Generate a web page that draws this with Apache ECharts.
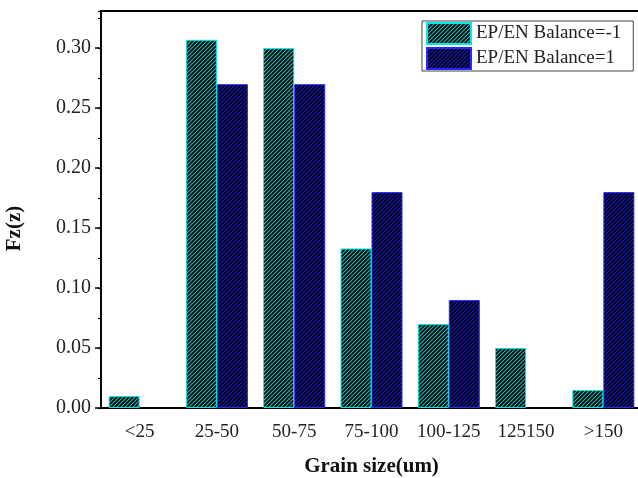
<!DOCTYPE html>
<html>
<head>
<meta charset="utf-8">
<script src="https://cdn.jsdelivr.net/npm/echarts@6/dist/echarts.min.js"></script>
<style>
  html, body { margin: 0; padding: 0; background: #fff; }
  #chart { width: 638px; height: 478px; }
</style>
</head>
<body>
<div id="chart"></div>
<script>
// data
const categories = ['<25', '25-50', '50-75', '75-100', '100-125', '125150', '>150']
const balanceNeg = [0.01, 0.307, 0.30, 0.133, 0.07, 0.05, 0.015]
const balancePos = [0, 0.27, 0.27, 0.18, 0.09, 0, 0.18]
const yTicks = [0, 0.331, 0.05] // min, max, interval

// hatch pattern: diagonal stripes on black
function hatch (stripe) {
  const c = document.createElement('canvas')
  c.width = 4
  c.height = 4
  const ctx = c.getContext('2d')
  ctx.fillStyle = '#000'
  ctx.fillRect(0, 0, 4, 4)
  ctx.strokeStyle = stripe
  ctx.lineWidth = 1.2
  ctx.beginPath()
  ctx.moveTo(0, 4); ctx.lineTo(4, 0)
  ctx.moveTo(-1, 1); ctx.lineTo(1, -1)
  ctx.moveTo(3, 5); ctx.lineTo(5, 3)
  ctx.stroke()
  return { image: c, repeat: 'repeat' }
}

// empty classes are not drawn at all
const noZero = arr => arr.map(v => (v === 0 ? '-' : v))

const font = 'Liberation Serif'
const myChart = echarts.init(document.getElementById('chart'))

myChart.setOption({
  animation: false,
  grid: {
    left: 101, top: 11, right: -4, bottom: 70,
    outerBoundsMode: 'none',
    containLabel: false,
    show: true, borderColor: '#000', borderWidth: 1.8
  },
  legend: {
    orient: 'vertical',
    left: 422, top: 21,
    icon: 'rect',
    itemWidth: 44, itemHeight: 21, itemGap: 2,
    padding: [1, 12, 1, 4],
    borderColor: '#444', borderWidth: 1,
    textStyle: { fontFamily: font, fontSize: 19, color: '#222' }
  },
  xAxis: [
    {
      type: 'category',
      data: categories,
      name: 'Grain size(um)',
      nameLocation: 'middle',
      nameGap: 48,
      nameTextStyle: { fontFamily: font, fontSize: 21, fontWeight: 'bold', color: '#111' },
      axisLine: { lineStyle: { color: '#000', width: 1.5 } },
      axisTick: { alignWithLabel: true, length: 8, lineStyle: { color: '#000', width: 1.5 } },
      axisLabel: { interval: 0, fontFamily: font, fontSize: 19, color: '#222', margin: 15 }
    },
    {
      type: 'category',
      data: categories,
      position: 'bottom',
      axisLine: { show: false },
      axisTick: { length: 4, lineStyle: { color: '#000', width: 1.5 } },
      axisLabel: { show: false }
    }
  ],
  yAxis: [
    {
      type: 'value',
      min: yTicks[0], max: yTicks[1], interval: yTicks[2],
      name: 'Fz(z)',
      nameLocation: 'middle',
      nameGap: 76,
      nameTextStyle: {
        fontFamily: font, fontSize: 21, fontWeight: 'bold', color: '#111',
        padding: [0, 38, 0, 0]
      },
      splitLine: { show: false },
      axisLine: { show: true, lineStyle: { color: '#000', width: 1.5 } },
      axisTick: { show: true, length: 6, lineStyle: { color: '#000', width: 1.5 } },
      axisLabel: {
        fontFamily: font, fontSize: 20, color: '#222', margin: 10,
        showMaxLabel: false,
        formatter: v => v.toFixed(2)
      }
    },
    {
      type: 'value',
      min: yTicks[0], max: yTicks[1], interval: yTicks[2] / 2,
      position: 'left',
      splitLine: { show: false },
      axisLine: { show: false },
      axisTick: { show: true, length: 3, lineStyle: { color: '#000', width: 1.2 } },
      axisLabel: { show: false }
    }
  ],
  series: [
    {
      name: 'EP/EN Balance=-1',
      type: 'bar',
      data: noZero(balanceNeg),
      barWidth: 31,
      barGap: '0%',
      itemStyle: { color: hatch('#22b8b4'), borderColor: '#00e8e8', borderWidth: 1 }
    },
    {
      name: 'EP/EN Balance=1',
      type: 'bar',
      data: noZero(balancePos),
      barWidth: 31,
      barGap: '0%',
      itemStyle: { color: hatch('#1a1ad0'), borderColor: '#2a2aff', borderWidth: 1 }
    }
  ]
})
</script>
</body>
</html>
